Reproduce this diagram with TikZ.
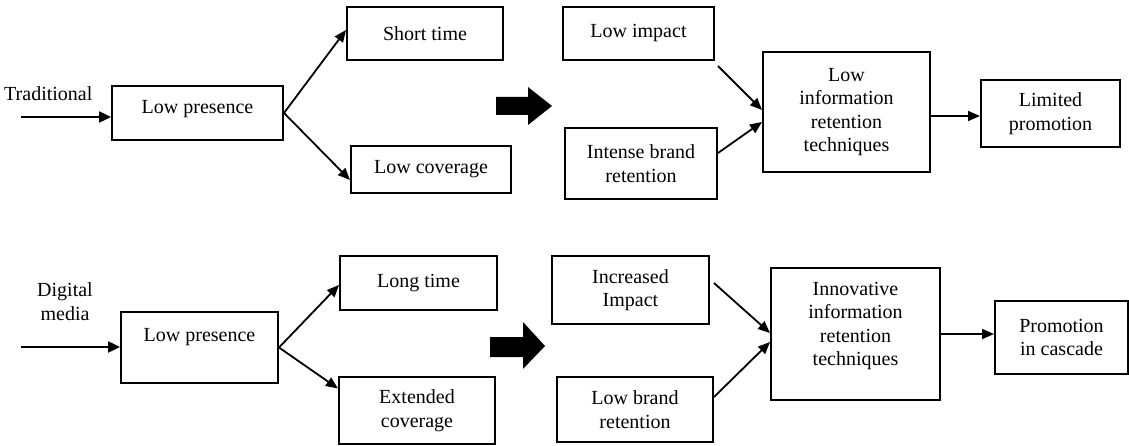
\documentclass[tikz,border=0pt]{standalone}
\usepackage{fontspec}
\setmainfont{Liberation Serif}
\usetikzlibrary{arrows.meta,calc}
\begin{document}
\begin{tikzpicture}[x=1pt,y=-1pt,
  txt/.style={inner sep=0pt, align=center, font=\fontsize{20}{23.5}\selectfont},
  box/.style={txt, draw, line width=2pt},
  link/.style={line width=1.8pt, -{Triangle[length=12pt,width=10pt]}},
  feed/.style={line width=2.4pt, -{Triangle[length=12pt,width=11pt]}},
  bigarrow/.style={fill=black}]
\useasboundingbox (0,0) rectangle (1129,446);

% ---------- traditional media ----------
\node[txt, anchor=west] (trad) at (4,94) {Traditional};
\coordinate (tradin) at (21,117);
\node[box, minimum width=171pt, minimum height=54pt] (lp1) at (197.5,113) {};
\node[txt] (lp1t) at (197.5,109) {Low presence};
\node[box, minimum width=156pt, minimum height=53pt] (st) at (425,33.5) {Short time};
\node[box, minimum width=160pt, minimum height=47pt] (lc) at (431,169.5) {Low coverage};
\node[box, minimum width=151pt, minimum height=53pt] (li) at (638.5,33.5) {Low impact};
\node[box, minimum width=152pt, minimum height=71pt] (ib) at (641,163.5) {Intense brand\\retention};
\node[box, minimum width=167pt, minimum height=120pt] (lirt) at (846.5,112) {Low\\information\\retention\\techniques};
\node[box, minimum width=139pt, minimum height=67pt] (lpr) at (1050.5,113.5) {Limited\\promotion};

\draw[feed] (tradin) -- (tradin -| lp1.west);
\draw[link] (lp1.east) -- ([yshift=3.5pt]st.west);
\draw[link] (lp1.east) -- ([yshift=-10.5pt]lc.west);
\fill[bigarrow] (496,97) -- (528,97) -- (528,87) -- (552,106) -- (528,125) -- (528,115) -- (496,115) -- cycle;
\draw[link] ([xshift=3pt,yshift=-5pt]li.south east) -- ([yshift=2pt]lirt.west);
\draw[link] ([yshift=10.5pt]ib.east) -- ([yshift=-10pt]lirt.west);
\draw[link] ([yshift=-4pt]lirt.east) -- ([yshift=-4pt]lirt.east -| lpr.west);

% ---------- digital media ----------
\node[txt] (dig) at (65,301.5) {Digital\\media};
\coordinate (digin) at (21,347);
\node[box, minimum width=157pt, minimum height=71pt] (lp2) at (199.5,347.5) {};
\node[txt] (lp2t) at (199.5,337) {Low presence};
\node[box, minimum width=157pt, minimum height=54pt] (lt) at (418.5,283) {Long time};
\node[box, minimum width=156pt, minimum height=67pt] (ec) at (417,410.5) {Extended\\coverage};
\node[box, minimum width=157pt, minimum height=68pt] (ii) at (630.5,290) {Increased\\Impact};
\node[box, minimum width=156pt, minimum height=65pt] (lbr) at (635,409.5) {Low brand\\retention};
\node[box, minimum width=169pt, minimum height=132pt] (iirt) at (855.5,334) {};
\node[txt] (iirtt) at (855.5,326) {Innovative\\information\\retention\\techniques};
\node[box, minimum width=133pt, minimum height=73pt] (pc) at (1061.5,337.5) {Promotion\\in cascade};

\draw[feed] (digin) -- (digin -| lp2.west);
\draw[link] (lp2.east) -- ([yshift=-2pt]lt.west);
\draw[link] (lp2.east) -- ([yshift=22pt]ec.west);
\fill[bigarrow] (490,337) -- (523,337) -- (523,322) -- (545,346) -- (523,369) -- (523,357) -- (490,357) -- cycle;
\draw[link] ([xshift=4pt,yshift=7pt]ii.east) -- ([yshift=1pt]iirt.west);
\draw[link] ([yshift=12.5pt]lbr.east) -- ([yshift=-8pt]iirt.west);
\draw[link] (iirt.east) -- (iirt.east -| pc.west);
\end{tikzpicture}
\end{document}
